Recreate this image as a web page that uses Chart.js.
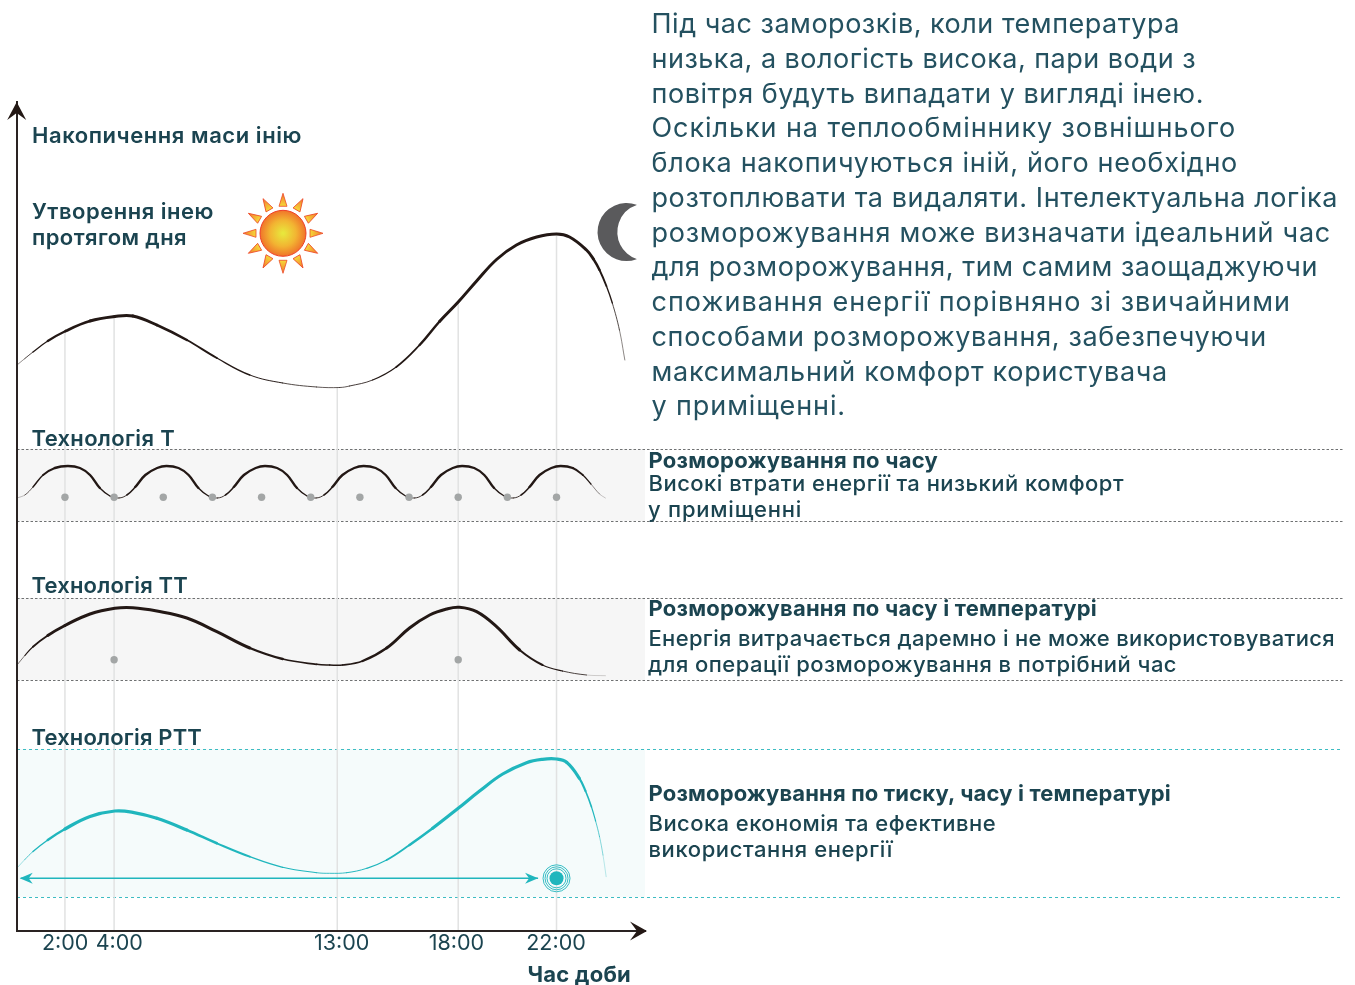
<!DOCTYPE html>
<html lang="uk">
<head>
<meta charset="utf-8">
<title>Накопичення маси інію</title>
<script src="https://cdn.jsdelivr.net/npm/chart.js@4"></script>
<style>
html,body{margin:0;padding:0;background:#fff;}
#wrap{position:relative;width:1355px;height:985px;overflow:hidden;}
#c{position:absolute;left:0;top:0;}
.t{position:absolute;white-space:nowrap;font-family:Inter,"Noto Sans",sans-serif;color:#1b4450;}
</style>
</head>
<body>
<div id="wrap"><canvas id="c" width="1355" height="985"></canvas></div>
<script>
// ---- data: x = hour of day, y = accumulated frost mass (arbitrary units) ----
const tickLabels = ["2:00", "4:00", "13:00", "18:00", "22:00"];
const tickLabelHours = [2.01, 4.21, 13.26, 17.93, 21.98];
const guideHours = [2, 4, 13.08, 18, 22];
const guideTops = [600, 614, 544, 629, 697];

const frostHours = [0.05,0.37,0.70,1.3,2.03,3.02,4.03,4.76,5.74,6.96,8.18,9.52,10.86,12.24,13.18,13.58,14.52,15.48,16.43,17.24,18.0,18.75,19.56,20.37,21.19,22.0,22.53,23.22,23.5,23.75,24.03,24.27,24.56,24.78];
const frostValues = [566,572.5,579,590,600,610,614.5,615,606,591,573,556,548,544,543.5,545,551,564,586,609.5,629,650,671.5,686,694,697,694,681,672,661,645,628,601,571];

const techTHours = [0.05,0.37,0.70,1.11,1.59,2.12,2.61,3.02,3.42,3.83,4.2,4.52,4.86,5.27,5.75,6.13,6.62,7.03,7.43,7.84,8.21,8.53,8.87,9.28,9.76,10.14,10.63,11.04,11.44,11.85,12.22,12.54,12.88,13.29,13.77,14.15,14.64,15.05,15.45,15.86,16.23,16.55,16.89,17.30,17.78,18.16,18.65,19.06,19.46,19.87,20.24,20.56,20.9,21.31,21.79,22.17,22.66,23.07,23.4,23.75,23.99];
const techTValues = [433,436,444,456,463,465,463,456,443,435,433,436,444,456,463,465,463,456,443,435,433,436,444,456,463,465,463,456,443,435,433,436,444,456,463,465,463,456,443,435,433,436,444,456,463,465,463,456,443,435,433,436,444,456,463,465,463,456,447,437,433];
const techTDotHours = [2,4,6,8,10,12,14,16,18,20,22];
const techTDotValue = 433.7;

const techTTHours = [0.05,0.37,0.70,1.3,2.0,3.02,4.03,4.76,5.74,6.96,8.18,9.52,10.86,12.24,12.77,13.3,14.11,15.09,16.02,16.84,17.53,18.05,18.75,19.56,20.5,21.43,22.24,23.22,23.99];
const techTTValues = [266,275.5,284.3,295.5,305.5,317,322.7,323.3,320,313,299.3,283,272,266.7,266,266,270,283,303,316,322,323.7,319.3,304.3,281,266,260,256,255.3];
const techTTDotHours = [4,18];
const techTTDotValue = 271.3;

const techPTTHours = [0.05,0.37,0.70,1.3,2.0,3.02,4.03,4.76,5.74,6.96,8.18,9.52,10.86,12.24,12.77,13.46,14.28,15.09,16.02,16.96,18,18.87,19.81,20.78,21.43,22,22.41,22.93,23.18,23.42,23.59,23.75,23.89,24.02];
const techPTTValues = [63,71.5,79.5,91,102,114.5,120,118.7,112.7,101,87.7,74.3,63.7,58.3,57.7,58.3,62.7,71,86,102.7,122.7,140,157,168.3,171.7,172,168.7,152.7,140,124.3,110,94.3,76,54.3];
const arrowHours = [0.2,21.25];
const arrowValue = 52.7;
const targetHour = 22;

const greyLevels = [481.5,409.5,332.5,250.5];
const tealLevels = [181.5,33.5];
const bands = [[410,482,"#f6f6f6"],[251,333,"#f6f6f6"],[34,182,"#f5fbfb"]];

const paragraphLines = [
 "Під час заморозків, коли температура",
 "низька, а вологість висока, пари води з",
 "повітря будуть випадати у вигляді інею.",
 "Оскільки на теплообміннику зовнішнього",
 "блока накопичуються іній, його необхідно",
 "розтоплювати та видаляти. Інтелектуальна логіка",
 "розморожування може визначати ідеальний час",
 "для розморожування, тим самим заощаджуючи",
 "споживання енергії порівняно зі звичайними",
 "способами розморожування, забезпечуючи",
 "максимальний комфорт користувача",
 "у приміщенні."
];
const paragraphEnds = [1180,1196,1204,1236,1238,1338,1331,1318,1291,1267,1168,846];

// text, left, right, baseline, size, weight
const labels = [
 ["Накопичення маси інію",32,302,143,22,600],
 ["Утворення інею",32,214,219,22,600],
 ["протягом дня",32,187,245,22,600],
 ["Технологія Т",31.5,175,446,22,600],
 ["Технологія ТТ",31.5,188,592.5,22,600],
 ["Технологія РТТ",31.5,202,745,22,600],
 ["Розморожування по часу",648.5,938,468,22,700],
 ["Високі втрати енергії та низький комфорт",648.5,1124,491,22,500],
 ["у приміщенні",648,802,517,22,500],
 ["Розморожування по часу і температурі",648.5,1097,616,22,700],
 ["Енергія витрачається даремно і не може використовуватися",648.5,1335,646,22,500],
 ["для операції розморожування в потрібний час",648,1177,672,22,500],
 ["Розморожування по тиску, часу і температурі",648.5,1171,801,22,700],
 ["Висока економія та ефективне",648.5,996,831,22,500],
 ["використання енергії",648.5,893,857,22,500],
 ["Час доби",527.5,631,982,22,700]
];

// ---- styling ----
const INK = "#2a2322", TEAL = "#20b6bd", GUIDE = "#e1e2e2", DOT = "#a3a6a6";
const pts = (xs, ys) => xs.map((x, i) => ({x, y: ys[i]}));

function taper(xs, values, peak) {
  const lo = Math.min(...values), hi = Math.max(...values);
  const x0 = xs[0], x1 = xs[xs.length - 1];
  return ctx => {
    const norm = ((ctx.p0.parsed.y + ctx.p1.parsed.y) / 2 - lo) / (hi - lo);
    const xm = (ctx.p0.parsed.x + ctx.p1.parsed.x) / 2;
    const w = 0.7 + (peak - 0.7) * Math.min(1, 2.2 * norm);
    const fade = Math.max(0.25, Math.min(1, (x1 - xm) / 1.4, 0.25 + (xm - x0) / 2.4));
    return w * fade;
  };
}
const curve = (xs, ys, color, peak) => ({
  data: pts(xs, ys), showLine: true, borderColor: color, pointRadius: 0,
  tension: 0.4, borderCapStyle: "round", capBezierPoints: false,
  borderWidth: peak, segment: {borderWidth: taper(xs, ys, peak)}
});
const dots = (xs, y) => ({
  data: xs.map(x => ({x, y})), showLine: false, pointRadius: 3.7,
  pointBackgroundColor: DOT, pointBorderWidth: 0
});
const level = (y, color, dash) => ({
  data: [{x: 0.05, y}, {x: 54.0, y}], showLine: true, clip: false, pointRadius: 0,
  borderColor: color, borderWidth: 1, borderDash: dash
});
const ring = (r, filled) => ({
  data: [{x: targetHour, y: arrowValue}], showLine: false, pointRadius: r,
  pointBackgroundColor: filled ? TEAL : "rgba(0,0,0,0)",
  pointBorderColor: TEAL, pointBorderWidth: filled ? 0 : 0.9
});

const datasets = [
  ring(7, true), ring(9.5), ring(11.5), ring(13.5),
  {data: [{x: arrowHours[0], y: arrowValue}, {x: arrowHours[1], y: arrowValue}], showLine: true,
   borderColor: TEAL, borderWidth: 1.4, pointRadius: 0},
  dots(techTDotHours, techTDotValue),
  dots(techTTDotHours, techTTDotValue),
  curve(frostHours, frostValues, "#231815", 3),
  curve(techTHours, techTValues, "#231815", 2.4),
  curve(techTTHours, techTTValues, "#231815", 3),
  curve(techPTTHours, techPTTValues, TEAL, 3.2),
  ...guideHours.map((x, i) => ({
    data: [{x, y: 0}, {x, y: guideTops[i]}], showLine: true,
    borderColor: GUIDE, borderWidth: 1.5, pointRadius: 0
  })),
  ...greyLevels.map(y => level(y, "#6f7172", [2.5, 2])),
  ...tealLevels.map(y => level(y, "#3dbcc2", [3, 3]))
];

// ---- decorations ----
function arrowHead(c, tx, ty, ang, len, half, notch, color) {
  c.save(); c.translate(tx, ty); c.rotate(ang); c.fillStyle = color;
  c.beginPath(); c.moveTo(0, 0); c.lineTo(-len, half); c.lineTo(-notch, 0); c.lineTo(-len, -half);
  c.closePath(); c.fill(); c.restore();
}
function drawSun(c, x, y) {
  c.save(); c.translate(x, y);
  for (let k = 0; k < 12; k++) {
    c.save(); c.rotate(k * Math.PI / 6);
    const g = c.createLinearGradient(0, -27, 0, -40);
    g.addColorStop(0, "#f6d83a"); g.addColorStop(1, "#f07a2a");
    c.fillStyle = g; c.strokeStyle = "#ee4a28"; c.lineWidth = 0.8;
    c.beginPath(); c.moveTo(-4, -27); c.lineTo(4, -27); c.lineTo(0, -40); c.closePath();
    c.fill(); c.stroke(); c.restore();
  }
  const g = c.createRadialGradient(0, 0, 1, 0, 0, 23);
  g.addColorStop(0, "#e8e63c"); g.addColorStop(0.55, "#f2b432"); g.addColorStop(1, "#f0742a");
  c.fillStyle = g; c.strokeStyle = "#ee3f26"; c.lineWidth = 1;
  c.beginPath(); c.arc(0, 0, 23, 0, 2 * Math.PI); c.fill(); c.stroke();
  c.restore();
}
function drawMoon(c) {
  const d = Math.PI / 180;
  c.save(); c.fillStyle = "#5a5a5c"; c.beginPath();
  c.arc(626.5, 232, 29, -69.7 * d, 69.7 * d, true);
  c.arc(645.8, 232, 28.5, 108.6 * d, 251.4 * d, false);
  c.closePath(); c.fill(); c.restore();
}
const decor = {
  id: "decor",
  beforeDatasetsDraw(ch) {
    const {ctx: c, chartArea: a, scales: {y}} = ch;
    bands.forEach(([lo, hi, col]) => {
      c.fillStyle = col;
      c.fillRect(a.left, y.getPixelForValue(hi), a.right - a.left, y.getPixelForValue(lo) - y.getPixelForValue(hi));
    });
  },
  afterDraw(ch) {
    const {ctx: c, chartArea: a, scales: {x, y}} = ch;
    arrowHead(c, a.left, a.top, -Math.PI / 2, 18, 9.5, 11, "#231815");
    arrowHead(c, a.right + 2, a.bottom, 0, 17, 9.5, 10, "#231815");
    const ay = y.getPixelForValue(arrowValue);
    arrowHead(c, x.getPixelForValue(arrowHours[0]) - 1, ay, Math.PI, 13, 5.5, 9, TEAL);
    arrowHead(c, x.getPixelForValue(arrowHours[1]), ay, 0, 13, 5.5, 9, TEAL);
    drawSun(c, 283, 233.3);
    drawMoon(c);
  }
};

new Chart(document.getElementById("c"), {
  type: "scatter",
  data: {datasets},
  plugins: [decor],
  options: {
    responsive: false, animation: false, events: [],
    layout: {padding: {left: 16.7, right: 710, top: 102, bottom: 24}},
    plugins: {legend: {display: false}, tooltip: {enabled: false}, title: {display: false}},
    scales: {
      x: {
        type: "linear", min: 0.037, max: 25.6,
        afterBuildTicks: s => { s.ticks = tickLabelHours.map(value => ({value})); },
        afterFit: s => { s.height = 30; },
        grid: {display: false, drawTicks: false},
        border: {display: true, color: INK, width: 2, z: 1},
        ticks: {
          autoSkip: false, maxRotation: 0, minRotation: 0, padding: 0, color: "#1b4450",
          font: {family: "Inter", size: 21.5},
          callback: (v, i) => tickLabels[i]
        }
      },
      y: {
        type: "linear", min: 0, max: 829,
        afterFit: s => { s.width = 0; },
        grid: {display: false, drawTicks: false},
        border: {display: true, color: INK, width: 2, z: 1},
        ticks: {display: false}
      }
    }
  }
});

// ---- text ----
const wrap = document.getElementById("wrap");
function place(text, left, right, baseline, size, weight, color) {
  const d = document.createElement("div");
  d.className = "t"; d.textContent = text;
  d.style.cssText = `left:${left}px;top:0;font-size:${size}px;font-weight:${weight};` + (color ? `color:${color};` : "");
  const probe = document.createElement("span");
  probe.style.cssText = "display:inline-block;width:0;height:0;";
  d.appendChild(probe);
  wrap.appendChild(d);
  const off = probe.getBoundingClientRect().bottom - wrap.getBoundingClientRect().top;
  d.style.top = (baseline - off) + "px";
  const w = d.getBoundingClientRect().width;
  d.style.letterSpacing = ((right - left - w) / text.length) + "px";
}
labels.forEach(([t, l, r, b, s, w]) => place(t, l, r, b, s, w));
paragraphLines.forEach((t, i) => place(t, 651.5, paragraphEnds[i], 33 + i * 34.75, 27, 400, "#245160"));
</script>
</body>
</html>
